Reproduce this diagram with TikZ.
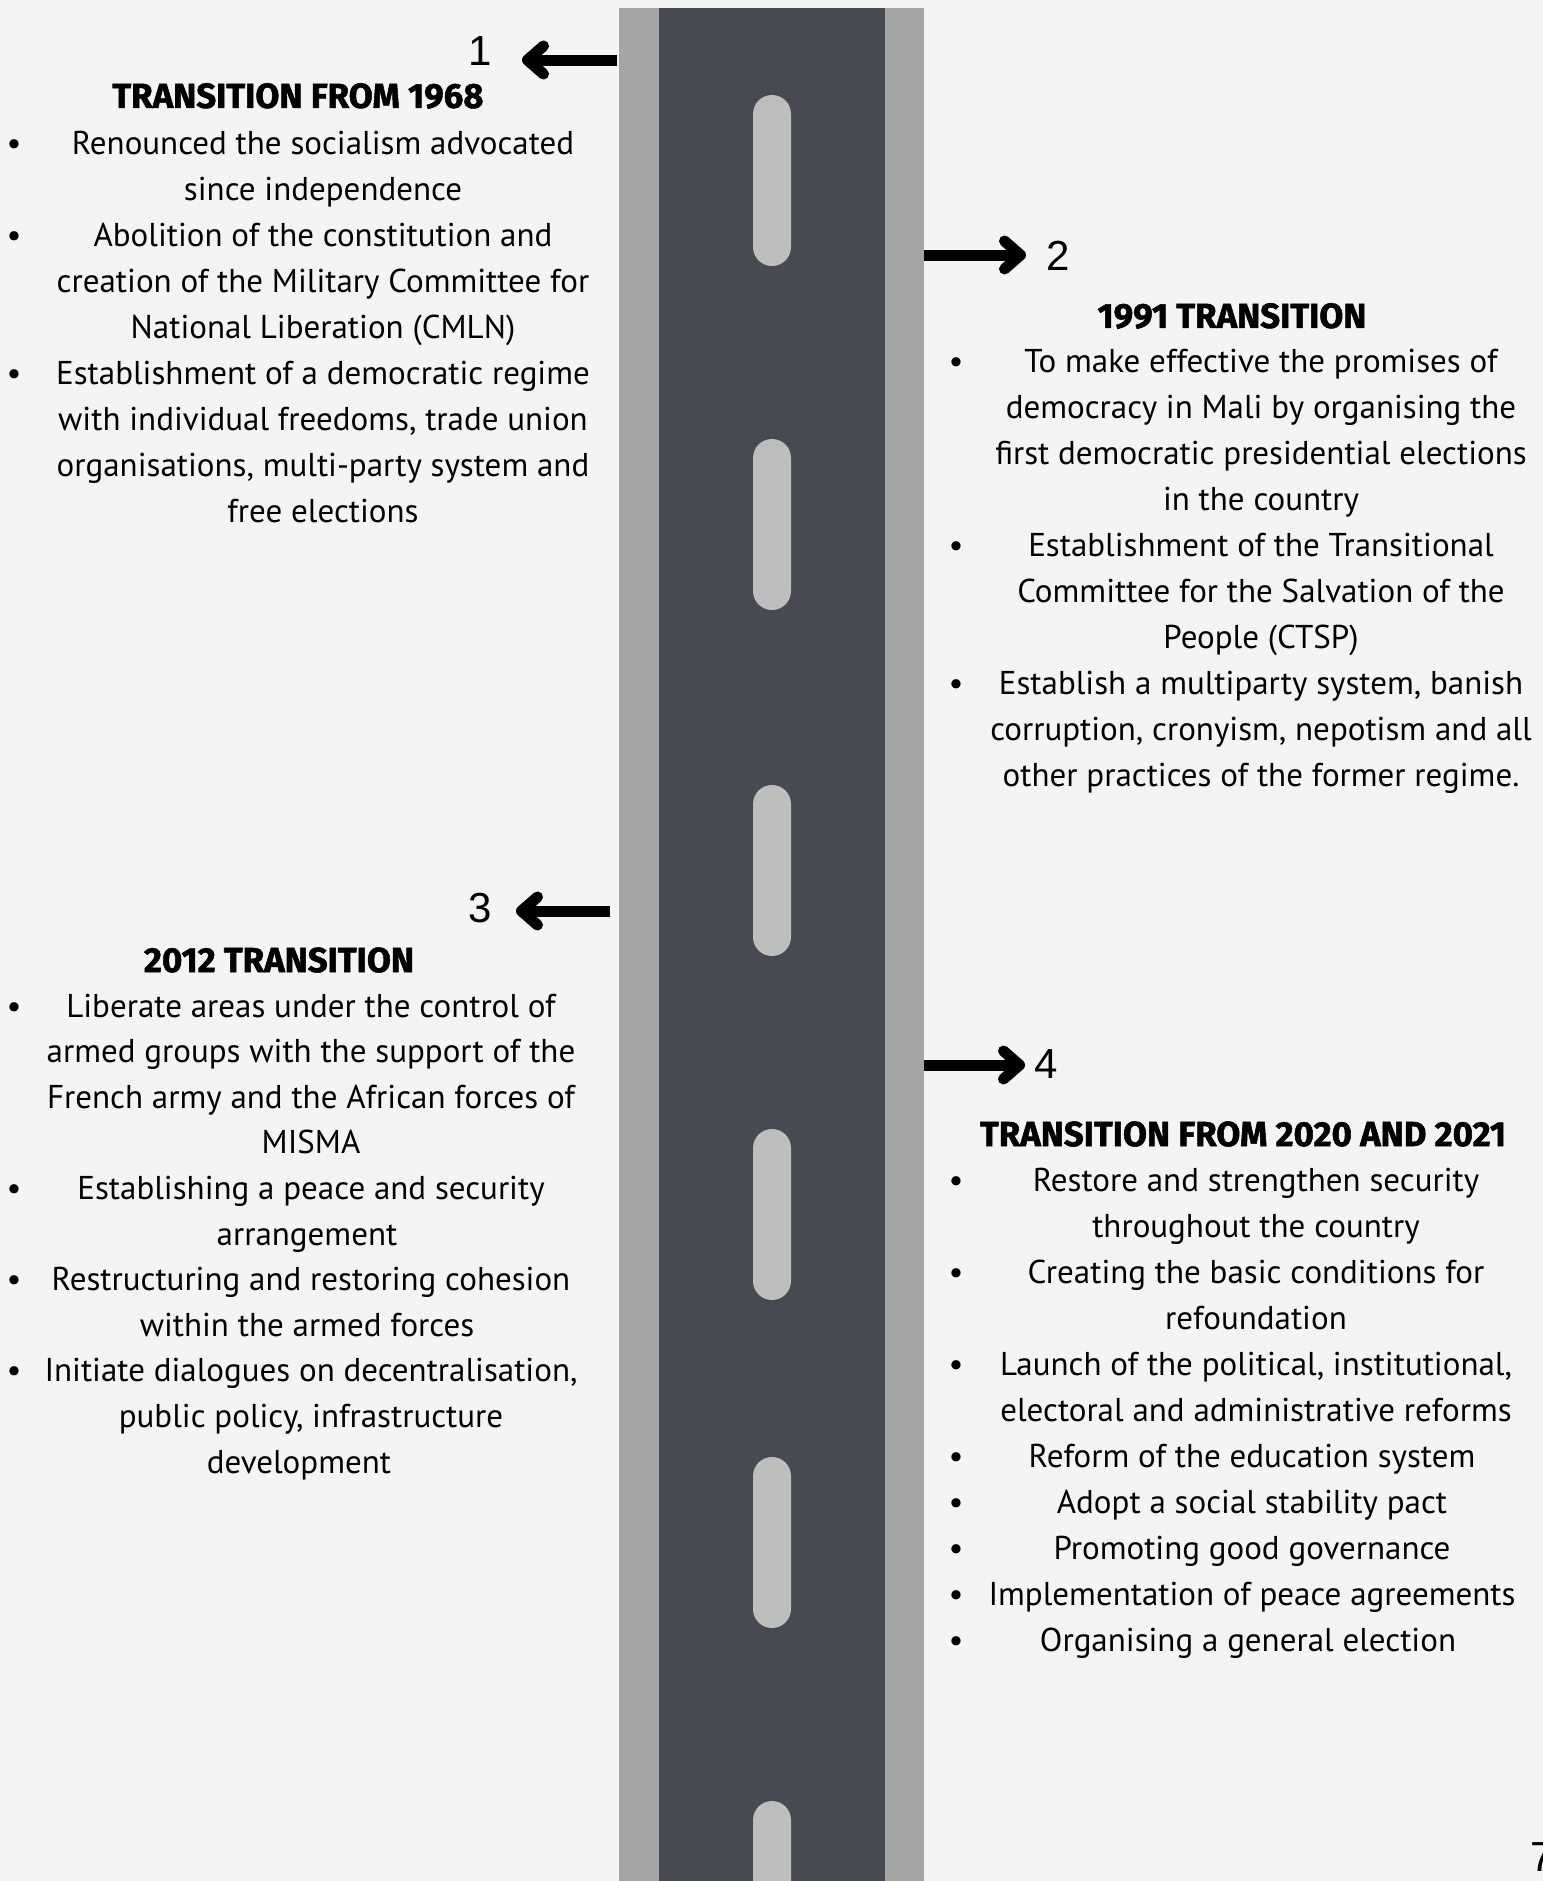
\documentclass[tikz,border=0pt]{standalone}
\usepackage{fontspec}
\setmainfont{PT Sans}
\newfontfamily\headfont{Fira Sans}[BoldFeatures={FakeBold=1.5}]
\newfontfamily\numfont{Liberation Sans}
\usetikzlibrary{positioning, arrows.meta}

\definecolor{paper}{HTML}{F4F4F4}
\definecolor{kerb}{HTML}{A5A5A5}
\definecolor{asphalt}{HTML}{474A51}
\definecolor{marking}{HTML}{BEBEBE}

\begin{document}
\begin{tikzpicture}[x=0.5pt, y=-0.5pt, node distance=0pt,
  txtline/.style={inner sep=0pt, outer sep=0pt, font=\fontsize{16.5}{23}\selectfont, text height=15.9pt, text depth=7.1pt},
  head/.style={inner sep=0pt, outer sep=0pt, font=\headfont\bfseries\fontsize{17.4}{20}\selectfont},
  num/.style={inner sep=0pt, outer sep=0pt, font=\numfont\fontsize{21}{24}\selectfont},
  dot/.style={inner sep=0pt, outer sep=0pt, anchor=base, font=\fontsize{16.5}{23}\selectfont},
  pointer/.style={line width=5.5pt, -{Straight Barb[length=8pt, width=14pt, round]}}]

% Page
\fill[paper] (0,0) rectangle (1543,1881);
\useasboundingbox (0,0) rectangle (1543,1881);

% Road
\fill[kerb] (619,8) rectangle (924,1881);
\fill[asphalt] (659,8) rectangle (885,1881);
\foreach \t in {95,439,785,1129,1457,1801}
  \fill[marking, rounded corners=9.5pt] (753,\t) rectangle (791,\t+171);

% Bullet columns
\coordinate (xl) at (14,0);
\coordinate (xr) at (956,0);

% Arrows and numbers
\coordinate (a1s) at (617,60);
\coordinate (a1e) at (522,60);
\coordinate (a2s) at (924,255);
\coordinate (a2e) at (1026,255);
\coordinate (a3s) at (610,911);
\coordinate (a3e) at (516,911);
\coordinate (a4s) at (924,1065);
\coordinate (a4e) at (1025,1065);
\draw[pointer] (a1s) -- (a1e);
\draw[pointer] (a2s) -- (a2e);
\draw[pointer] (a3s) -- (a3e);
\draw[pointer] (a4s) -- (a4e);
\node[num] (n1) at (480,51) {1};
\node[num] (n2) at (1058,256) {2};
\node[num] (n3) at (480,908) {3};
\node[num] (n4) at (1046,1064) {4};

% Transition from 1968
\node[head] (h1) at (298,96) {TRANSITION FROM 1968};
\node[txtline, anchor=base] (l1a) at (323,154) {Renounced the socialism advocated};
\node[txtline, below=of l1a] (l1b) {since independence};
\node[txtline, below=of l1b] (l1c) {Abolition of the constitution and};
\node[txtline, below=of l1c] (l1d) {creation of the Military Committee for};
\node[txtline, below=of l1d] (l1e) {National Liberation (CMLN)};
\node[txtline, below=of l1e] (l1f) {Establishment of a democratic regime};
\node[txtline, below=of l1f] (l1g) {with individual freedoms, trade union};
\node[txtline, below=of l1g] (l1h) {organisations, multi-party system and};
\node[txtline, below=of l1h] (l1i) {free elections};
\node[dot] (d1a) at (l1a.base -| xl) {\textbullet};
\node[dot] (d1c) at (l1c.base -| xl) {\textbullet};
\node[dot] (d1f) at (l1f.base -| xl) {\textbullet};

% 1991 transition
\node[head] (h2) at (1232,316) {1991 TRANSITION};
\node[txtline, anchor=base] (l2a) at (1261,372) {To make effective the promises of};
\node[txtline, below=of l2a] (l2b) {democracy in Mali by organising the};
\node[txtline, below=of l2b] (l2c) {first democratic presidential elections};
\node[txtline, below=of l2c] (l2d) {in the country};
\node[txtline, below=of l2d] (l2e) {Establishment of the Transitional};
\node[txtline, below=of l2e] (l2f) {Committee for the Salvation of the};
\node[txtline, below=of l2f] (l2g) {People (CTSP)};
\node[txtline, below=of l2g] (l2h) {Establish a multiparty system, banish};
\node[txtline, below=of l2h] (l2i) {corruption, cronyism, nepotism and all};
\node[txtline, below=of l2i] (l2j) {other practices of the former regime.};
\node[dot] (d2a) at (l2a.base -| xr) {\textbullet};
\node[dot] (d2e) at (l2e.base -| xr) {\textbullet};
\node[dot] (d2h) at (l2h.base -| xr) {\textbullet};

% 2012 transition
\node[head] (h3) at (279,960) {2012 TRANSITION};
\node[txtline, anchor=base] (l3a) at (311,1017) {Liberate areas under the control of};
\node[txtline, below=of l3a, yshift=0.2pt] (l3b) {armed groups with the support of the};
\node[txtline, below=of l3b, yshift=0.2pt] (l3c) {French army and the African forces of};
\node[txtline, below=of l3c, yshift=0.2pt] (l3d) {MISMA};
\node[txtline, below=of l3d, yshift=0.2pt] (l3e) {Establishing a peace and security};
\node[txtline, below=of l3e, xshift=-2pt, yshift=0.2pt] (l3f) {arrangement};
\node[txtline, below=of l3f, xshift=2pt, yshift=0.2pt] (l3g) {Restructuring and restoring cohesion};
\node[txtline, below=of l3g, xshift=-2pt, yshift=0.2pt] (l3h) {within the armed forces};
\node[txtline, below=of l3h, xshift=2pt, yshift=0.2pt] (l3i) {Initiate dialogues on decentralisation,};
\node[txtline, below=of l3i, yshift=0.2pt] (l3j) {public policy, infrastructure};
\node[txtline, below=of l3j, xshift=-6pt, yshift=0.2pt] (l3k) {development};
\node[dot] (d3a) at (l3a.base -| xl) {\textbullet};
\node[dot] (d3e) at (l3e.base -| xl) {\textbullet};
\node[dot] (d3g) at (l3g.base -| xl) {\textbullet};
\node[dot] (d3i) at (l3i.base -| xl) {\textbullet};

% Transition from 2020 and 2021
\node[head] (h4) at (1243,1134) {TRANSITION FROM 2020 AND 2021};
\node[txtline, anchor=base] (l4a) at (1256,1191) {Restore and strengthen security};
\node[txtline, below=of l4a] (l4b) {throughout the country};
\node[txtline, below=of l4b] (l4c) {Creating the basic conditions for};
\node[txtline, below=of l4c] (l4d) {refoundation};
\node[txtline, below=of l4d] (l4e) {Launch of the political, institutional,};
\node[txtline, below=of l4e] (l4f) {electoral and administrative reforms};
\node[txtline, below=of l4f, xshift=-2pt] (l4g) {Reform of the education system};
\node[txtline, below=of l4g] (l4h) {Adopt a social stability pact};
\node[txtline, below=of l4h] (l4i) {Promoting good governance};
\node[txtline, below=of l4i] (l4j) {Implementation of peace agreements};
\node[txtline, below=of l4j, xshift=-2pt] (l4k) {Organising a general election};
\node[dot] (d4a) at (l4a.base -| xr) {\textbullet};
\node[dot] (d4c) at (l4c.base -| xr) {\textbullet};
\node[dot] (d4e) at (l4e.base -| xr) {\textbullet};
\node[dot] (d4g) at (l4g.base -| xr) {\textbullet};
\node[dot] (d4h) at (l4h.base -| xr) {\textbullet};
\node[dot] (d4i) at (l4i.base -| xr) {\textbullet};
\node[dot] (d4j) at (l4j.base -| xr) {\textbullet};
\node[dot] (d4k) at (l4k.base -| xr) {\textbullet};

% Page number
\node[num, anchor=west] (pg) at (1530,1857) {7};
\end{tikzpicture}
\end{document}
